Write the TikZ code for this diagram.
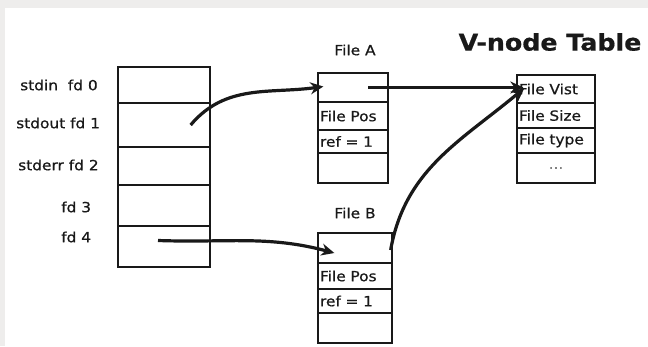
\documentclass[tikz,border=0pt]{standalone}
\usepackage{fontspec}
\usepackage{xcolor}
\usepackage{tikz}
\usetikzlibrary{arrows.meta,positioning}
\newfontfamily\sketchfont[FakeStretch=1.1,FakeBold=0.6]{DejaVu Sans}
\definecolor{inkline}{RGB}{25,25,25}
\definecolor{framegray}{RGB}{238,237,236}

\begin{document}
\begin{tikzpicture}[
  x=1pt,y=-1pt,
  font=\sketchfont\fontsize{14}{16}\selectfont,
  cell/.style={rectangle,draw=inkline,line width=1.3pt,inner xsep=2pt,inner ysep=0pt,align=left,text=inkline},
  fdcell/.style={cell,text width=88pt},
  facell/.style={cell,text width=66pt},
  fbcell/.style={cell,text width=70pt},
  vncell/.style={cell,text width=74pt},
  fdlabel/.style={anchor=west,inner sep=0pt,text=inkline},
  title/.style={inner sep=0pt,text=inkline},
  arrow/.style={-{Stealth[length=13pt,width=12pt]},draw=inkline,line width=3.2pt}
]
\useasboundingbox (0,0) rectangle (648,346);
\fill[framegray] (0,0) rectangle (648,346);
\fill[white] (5,8) rectangle (648,346);

% descriptor table
\node[fdcell,minimum height=36] (fd0) at (164,85) {};
\node[fdcell,minimum height=44] (fd1) at (164,125) {};
\node[fdcell,minimum height=38] (fd2) at (164,166) {};
\node[fdcell,minimum height=41] (fd3) at (164,205.5) {};
\node[fdcell,minimum height=41] (fd4) at (164,246.5) {};
\node[fdlabel] (lbl0) at (20,85) {stdin\ \ fd 0};
\node[fdlabel] (lbl1) at (16,123) {stdout fd 1};
\node[fdlabel] (lbl2) at (18,165) {stderr fd 2};
\node[fdlabel] (lbl3) at (61,207) {fd 3};
\node[fdlabel] (lbl4) at (61,237) {fd 4};

% open file entries
\node[title] (fatitle) at (355,50) {File A};
\node[facell,minimum height=29] (fa0) at (353,87.5) {};
\node[facell,minimum height=28] (fa1) at (353,116) {File Pos};
\node[facell,minimum height=23] (fa2) at (353,141.5) {ref = 1};
\node[facell,minimum height=30] (fa3) at (353,168) {};

\node[title] (fbtitle) at (355,213) {File B};
\node[fbcell,minimum height=30] (fb0) at (355,248) {};
\node[fbcell,minimum height=26] (fb1) at (355,276) {File Pos};
\node[fbcell,minimum height=24] (fb2) at (355,301) {ref = 1};
\node[fbcell,minimum height=30] (fb3) at (355,328) {};

% v-node table
\node[title,font=\sketchfont\bfseries\fontsize{23}{27}\selectfont] (vntitle) at (550,42) {V-node Table};
\node[vncell,minimum height=28] (vn0) at (556,89) {File Vist};
\node[vncell,minimum height=25] (vn1) at (556,115.5) {File Size};
\node[vncell,minimum height=25] (vn2) at (556,140.5) {File type};
\node[vncell,minimum height=30,align=center,text=gray] (vn3) at (556,168) {...};

\draw[arrow] ([xshift=-20pt]fd1.east) to[out=50,in=188] ([xshift=6pt,yshift=1pt]fa0.west);
\draw[arrow] ([xshift=15pt]fa0.center) -- ([xshift=7pt,yshift=1.5pt]vn0.west);
\draw[arrow] ([xshift=-6pt,yshift=6pt]fd4.center) to[out=-2,in=165] ([xshift=17pt,yshift=-5pt]fb0.west);
\draw[arrow] ([xshift=-2pt,yshift=-2pt]fb0.east) to[out=80,in=-140] ([xshift=8pt,yshift=1pt]vn0.west);
\end{tikzpicture}
\end{document}
